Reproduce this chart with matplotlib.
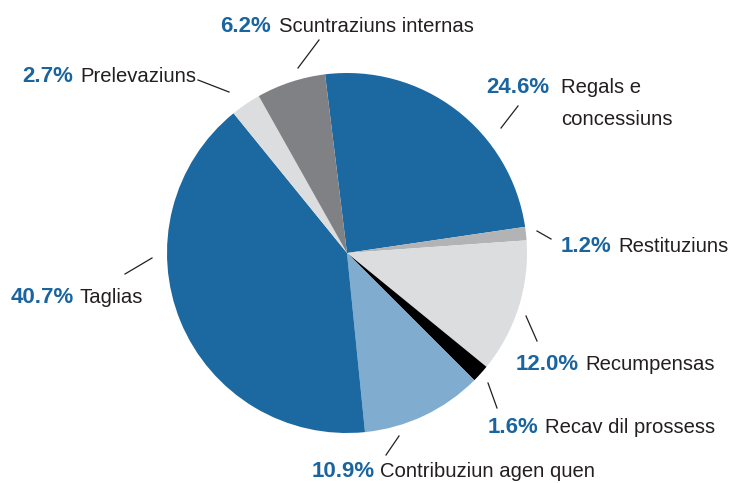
import numpy as np
import matplotlib.pyplot as plt

plt.rcParams['font.family'] = ['Liberation Sans', 'DejaVu Sans']

# valurs (en urden dal pie, en direcziun da l'ura)
labels = ['Regals e\nconcessiuns', 'Restituziuns', 'Recumpensas', 'Recav dil prossess',
          'Contribuziun agen quen', 'Taglias', 'Prelevaziuns', 'Scuntraziuns internas']
shares = [24.6, 1.2, 12.0, 1.6, 10.9, 40.7, 2.7, 6.2]
colors = ['#1c69a2', '#b2b3b5', '#dcdddf', '#000000', '#80adcf', '#1c69a2', '#dcdddf', '#808184']

# posiziuns dals texts (pixels): x percent, x num, baseline y
pct_x = [486, 561, 516, 488, 312, 11, 22, 220]
name_x = [561, 618, 585, 545, 380, 80, 80, 279]
text_y = [93, 252, 370, 433, 477, 303, 82, 32]
# lingias
lines = [((501, 128), (518, 106)), ((537, 231), (551, 239)), ((526, 316), (537, 341)),
         ((488, 383), (497, 408)), ((386, 455), (399, 436)), ((125, 274), (152, 258)),
         ((198, 80), (229, 92)), ((298, 68), (319, 40))]

W, H = 731, 483
fig = plt.figure(figsize=(W / 100, H / 100), dpi=100)
ax = fig.add_axes([0, 0, 1, 1])

ax.pie(shares, colors=colors, startangle=97, counterclock=False,
       radius=180, center=(347, H - 253), frame=True,
       wedgeprops=dict(linewidth=0))
ax.set_xlim(0, W)
ax.set_ylim(0, H)
ax.set_aspect('equal')
ax.axis('off')

for lab, s, px, nx, ty in zip(labels, shares, pct_x, name_x, text_y):
    ax.text(px, H - ty, f'{s:.1f}%', color='#1a64a0', fontsize=16, fontweight='bold', va='baseline')
    for i, part in enumerate(lab.split('\n')):
        ax.text(nx, H - ty - 32 * i, part, color='#231f20', fontsize=14.6, va='baseline')

for (x0, y0), (x1, y1) in lines:
    ax.plot([x0, x1], [H - y0, H - y1], color='#231f20', lw=0.9)

fig.savefig('out.png', dpi=100)
